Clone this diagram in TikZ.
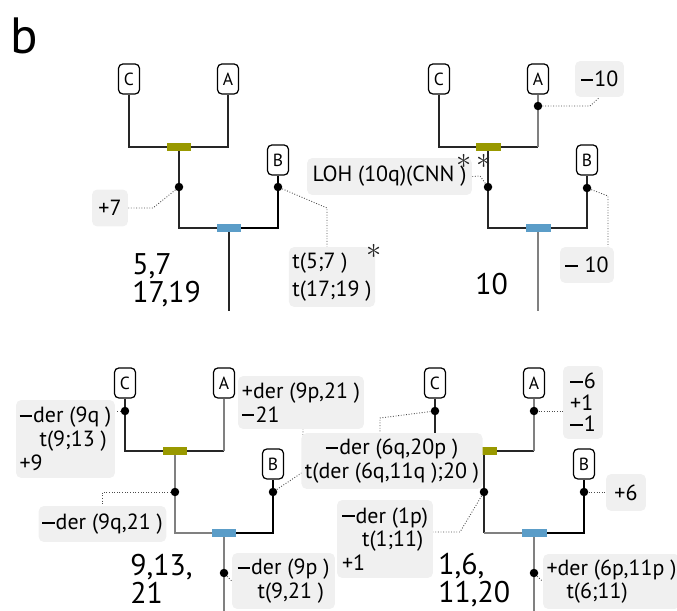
\documentclass[tikz,border=0pt]{standalone}
\usepackage{fontspec}
\setmainfont{PT Sans}
\usetikzlibrary{positioning}
\definecolor{barolive}{HTML}{999900}
\definecolor{barblue}{HTML}{5B9DC8}
\definecolor{notegray}{HTML}{F0F0F0}
\newcommand{\mn}{\rule[0.26em]{0.25cm}{0.04cm}\kern0.6pt}

\begin{document}
\begin{tikzpicture}[
  x=0.02cm, y=-0.02cm,
  leaf/.style={rectangle, draw, rounded corners=2.5pt, line width=0.7pt, fill=white, minimum width=0.42cm, minimum height=0.6cm, inner sep=0pt, font=\fontsize{10}{12}\selectfont},
  note/.style={fill=notegray, rounded corners=3pt, inner sep=2pt, align=left, font=\fontsize{12.5}{13.5}\selectfont},
  tag/.style={anchor=north west, align=left, inner sep=0pt, font=\fontsize{17}{16}\selectfont},
  star/.style={inner sep=0pt, text=black!85, font=\fontsize{17}{17}\selectfont},
  dot/.style={circle, fill=black, inner sep=0pt, minimum size=0.17cm},
  gbar/.style={fill=barolive, minimum width=0.5cm, minimum height=0.16cm, inner sep=0pt},
  bbar/.style={fill=barblue, minimum width=0.5cm, minimum height=0.16cm, inner sep=0pt},
  blk/.style={draw=black!85, line width=1pt},
  gry/.style={draw=black!50, line width=1pt},
  thk/.style={draw=black, line width=1.5pt},
  lead/.style={densely dotted, line width=0.5pt, black!70},
]
\useasboundingbox (0,0) rectangle (677,611);
\node[font=\fontsize{29}{29}\selectfont, inner sep=0pt] (panel) at (24,36) {b};

% top left
\node[leaf] (c1) at (129,79) {C};
\node[leaf] (a1) at (228,79) {A};
\node[leaf] (b1) at (278,160) {B};
\coordinate (g1) at (179,147);
\coordinate (u1) at (229,228);
\coordinate (r1) at (229,311);
\draw[blk] (c1) |- (g1) -| (a1);
\draw[blk] (g1) |- (u1);
\draw[thk] (b1) |- (u1);
\draw[blk] (u1) -- (r1);
\node[gbar] (gb1) at (g1) {};
\node[bbar] (ub1) at (u1) {};
\node[dot] (d1a) at (179,187) {};
\node[dot] (d1b) at (278,187) {};
\node[note, minimum width=0.72cm, minimum height=0.74cm] (n1a) at (110,208) {+7};
\node[note, minimum width=1.62cm, minimum height=1.2cm, font=\fontsize{12.5}{16}\selectfont] (n1b) at (332,277) {t(5;7 )\\t(17;19 )};
\draw[lead] (d1a) -- (153,208) -- (n1a);
\draw[lead] (d1b) -- (327,208) -- (n1b.north -| 327,0);
\node[star] (s1) at (374,251) {$\ast$};
\node[tag] (k1) at (132,253) {5,7\\17,19};

% top right
\node[leaf] (c2) at (439,79) {C};
\node[leaf] (a2) at (538,79) {A};
\node[leaf] (b2) at (587,160) {B};
\coordinate (g2) at (488,147);
\coordinate (ga2) at (538,147);
\coordinate (u2) at (538,228);
\coordinate (r2) at (538,311);
\draw[blk] (c2) |- (ga2);
\draw[gry] (a2) -- (ga2);
\draw[blk] (g2) |- (u2) -| (b2);
\draw[gry] (u2) -- (r2);
\node[gbar] (gb2) at (g2) {};
\node[bbar] (ub2) at (u2) {};
\node[dot] (d2a) at (538,106) {};
\node[dot] (d2m) at (488,187) {};
\node[dot] (d2b) at (587,188) {};
\node[note, minimum width=0.98cm, minimum height=0.72cm] (n2a) at (599.5,79) {\mn10};
\node[note, minimum width=3.3cm, minimum height=0.74cm] (n2b) at (389.5,176.5) {LOH (10q)(CNN )};
\node[note, minimum width=1.08cm, minimum height=0.72cm] (n2c) at (587,265) {\mn\ 10};
\draw[lead] (d2a) -- (590,106) -- (n2a.south);
\draw[lead] (d2m) -- (480,176) -- (n2b.east);
\draw[lead] (d2b) -- (608,196) -- (n2c.north -| 608,0);
\node[star] (s2) at (474,161) {$\ast\,\ast$};
\node[tag] (k2) at (475,273) {10};

% bottom left
\node[leaf] (c3) at (125,383) {C};
\node[leaf] (a3) at (224,383) {A};
\node[leaf] (b3) at (273,464) {B};
\coordinate (g3) at (175,451);
\coordinate (ga3) at (224,451);
\coordinate (u3) at (224,533);
\coordinate (r3) at (224,615);
\draw[blk] (c3) |- (ga3);
\draw[gry] (a3) -- (ga3);
\draw[gry] (g3) |- (u3);
\draw[thk] (u3) -| (b3);
\draw[gry] (u3) -- (r3);
\node[gbar] (gb3) at (g3) {};
\node[bbar] (ub3) at (u3) {};
\node[dot] (d3c) at (125,411) {};
\node[dot] (d3m) at (175,492) {};
\node[dot] (d3b) at (273,492) {};
\node[dot] (d3r) at (224,573) {};
\node[note, minimum width=1.98cm, minimum height=1.56cm] (n3a) at (65.5,439) {\mn der (9q )\\\hspace*{0.4cm}t(9;13 )\\+9};
\node[note, minimum width=2.54cm, minimum height=0.72cm] (n3b) at (102.5,524) {\mn der (9q,21 )};
\node[note, minimum width=2.52cm, minimum height=1.06cm] (n3c) at (301,402.5) {+der (9p,21 )\\\mn 21};
\node[note, minimum width=2.06cm, minimum height=1.12cm] (n3d) at (283.5,581) {\mn der (9p )\\\hspace*{0.4cm}t(9,21 )};
\draw[lead] (d3c) -- (n3a.east |- d3c);
\draw[lead] (d3m) -- (n3b.north |- d3m) -- (n3b.north);
\draw[lead] (d3b) -- (303,472) -- (n3c.south -| 303,0);
\draw[lead] (d3r) -- (n3d.west);
\node[tag] (k3) at (130,554) {9,13,\\21};

% bottom right
\node[leaf] (c4) at (435,383) {C};
\node[leaf] (a4) at (534,383) {A};
\node[leaf] (b4) at (584,464) {B};
\coordinate (g4) at (484,451);
\coordinate (ga4) at (534,451);
\coordinate (m4) at (484,533);
\coordinate (u4) at (534,533);
\coordinate (r4) at (534,615);
\draw[blk] (c4) |- (ga4);
\draw[gry] (a4) -- (ga4);
\draw[blk] (g4) -- (m4);
\draw[gry] (m4) -- (u4);
\draw[thk] (u4) -| (b4);
\draw[gry] (u4) -- (r4);
\node[gbar] (gb4) at (g4) {};
\node[bbar] (ub4) at (u4) {};
\node[dot] (d4c) at (435,411) {};
\node[dot] (d4a) at (534,411) {};
\node[dot] (d4m) at (484,492) {};
\node[dot] (d4b) at (584,492) {};
\node[dot] (d4r) at (534,573) {};
\node[note, minimum width=0.8cm, minimum height=1.46cm, font=\fontsize{12.5}{12.3}\selectfont] (n4a) at (583,402.5) {\mn 6\\+1\\\mn 1};
\node[note, minimum width=3.48cm, minimum height=1.12cm, align=center] (n4b) at (392,461) {\mn der (6q,20p )\\t(der (6q,11q );20 )};
\node[note, minimum width=1.92cm, minimum height=1.56cm] (n4c) at (385,539) {\mn der (1p)\\\hspace*{0.4cm}t(1;11)\\+1};
\node[note, minimum width=0.8cm, minimum height=0.74cm] (n4d) at (626,492.5) {+6};
\node[note, minimum width=2.62cm, minimum height=1.1cm] (n4e) at (611.5,581.5) {+der (6p,11p )\\\hspace*{0.4cm}t(6;11)};
\draw[lead] (d4c) -- (380,418) -- (n4b.north -| 380,0);
\draw[lead] (d4a) -- (n4a.west |- d4a);
\draw[lead] (d4m) -- (460,532) -- (n4c.east |- 0,532);
\draw[lead] (d4b) -- (n4d.west |- d4b);
\draw[lead] (d4r) -- (n4e.west);
\node[tag] (k4) at (438,553) {1,6,\\11,20};
\end{tikzpicture}
\end{document}
